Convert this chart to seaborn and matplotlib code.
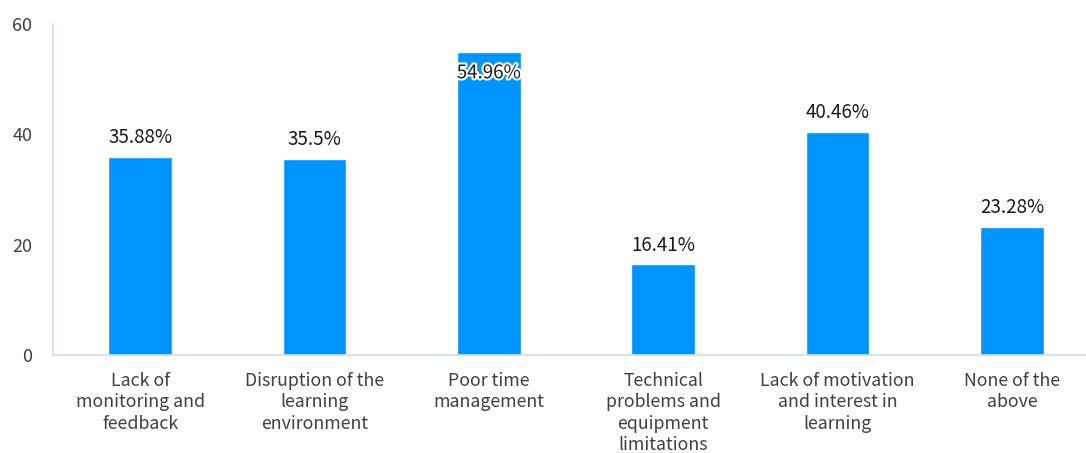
import matplotlib
matplotlib.use("Agg")
import matplotlib.pyplot as plt
import matplotlib.patheffects as pe
import seaborn as sns
import pandas as pd

categories = [
    "Lack of\nmonitoring and\nfeedback",
    "Disruption of the\nlearning\nenvironment",
    "Poor time\nmanagement",
    "Technical\nproblems and\nequipment\nlimitations",
    "Lack of motivation\nand interest in\nlearning",
    "None of the\nabove",
]
values = [35.88, 35.5, 54.96, 16.41, 40.46, 23.28]
value_labels = ["35.88%", "35.5%", "54.96%", "16.41%", "40.46%", "23.28%"]
y_ticks = [0, 20, 40, 60]

sns.set_theme(style="white")
plt.rcParams["font.family"] = ["Noto Sans CJK SC", "DejaVu Sans"]

df = pd.DataFrame({"category": categories, "value": values})

fig = plt.figure(figsize=(10.86, 4.53), dpi=100)
# the plotting area runs past the right edge of the canvas
ax = fig.add_axes([53 / 1086, 98 / 453, 1046 / 1086, 331 / 453])

sns.barplot(data=df, x="category", y="value", color="#0094FF", saturation=1,
            width=0.365, ax=ax)

ax.set_ylim(0, 60)
ax.set_xlim(-0.5, len(categories) - 0.5)
ax.set_yticks(y_ticks)
ax.set_xlabel("")
ax.set_ylabel("")
ax.tick_params(axis="both", length=0, labelcolor="#404040")
ax.tick_params(axis="y", pad=15, labelsize=13)
ax.tick_params(axis="x", pad=12, labelsize=12.8)
for t in ax.get_xticklabels():
    t.set_linespacing(1.25)

for sp in ["top", "right"]:
    ax.spines[sp].set_visible(False)
for sp in ["left", "bottom"]:
    ax.spines[sp].set_color("#D0DCEF")
    ax.spines[sp].set_linewidth(1.2)

for i, (v, lab) in enumerate(zip(values, value_labels)):
    if v + 6 > 60:
        ax.text(i, v - 3.8, lab, ha="center", va="center", fontsize=13.5,
                color="#1a1a1a",
                path_effects=[pe.withStroke(linewidth=3, foreground="white")])
    else:
        ax.text(i, v + 3.5, lab, ha="center", va="center", fontsize=13.5,
                color="#1a1a1a")

fig.savefig("out.png", dpi=100)
